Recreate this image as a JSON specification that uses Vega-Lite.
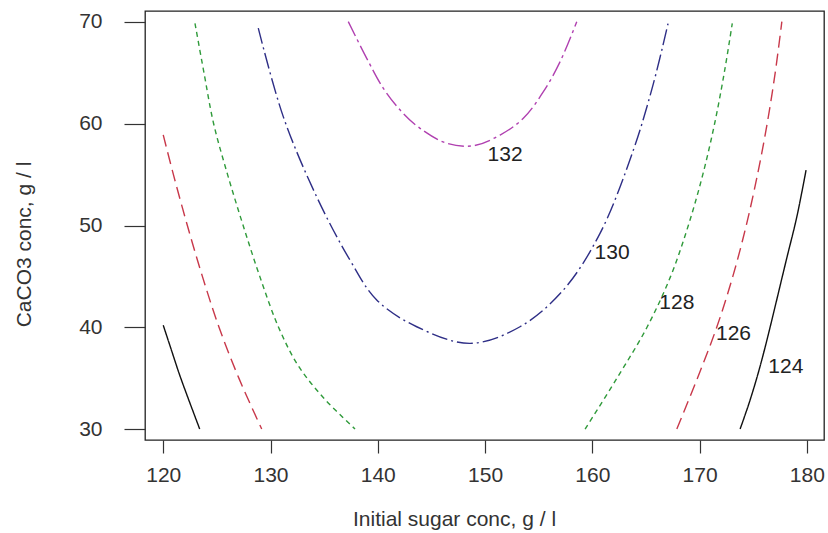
{
  "$schema": "https://vega.github.io/schema/vega-lite/v6.json",
  "width": 679,
  "height": 429,
  "autosize": {"type": "none"},
  "padding": {"left": 145, "top": 11, "right": 4, "bottom": 93},
  "background": "white",
  "config": {
    "view": {"stroke": "#222", "strokeWidth": 1.3},
    "font": "Liberation Sans",
    "axis": {
      "grid": false,
      "domain": false,
      "tickColor": "#333",
      "tickWidth": 1.2,
      "labelColor": "#333",
      "labelFontSize": 21,
      "labelFont": "Liberation Sans",
      "titleFont": "Liberation Sans",
      "titleFontSize": 21,
      "titleFontWeight": "normal",
      "titleColor": "#333"
    }
  },
  "data": {
    "values": [
      {"lvl": "124", "seg": "124L", "i": 0, "x": 120.0, "y": 40.2},
      {"lvl": "124", "seg": "124L", "i": 1, "x": 120.78, "y": 37.7},
      {"lvl": "124", "seg": "124L", "i": 2, "x": 121.6, "y": 35.1},
      {"lvl": "124", "seg": "124L", "i": 3, "x": 123.4, "y": 30.0},
      {"lvl": "124", "seg": "124R", "i": 0, "x": 173.78, "y": 30.0},
      {"lvl": "124", "seg": "124R", "i": 1, "x": 174.71, "y": 32.85},
      {"lvl": "124", "seg": "124R", "i": 2, "x": 175.8, "y": 36.78},
      {"lvl": "124", "seg": "124R", "i": 3, "x": 178.13, "y": 46.8},
      {"lvl": "124", "seg": "124R", "i": 4, "x": 179.07, "y": 50.87},
      {"lvl": "124", "seg": "124R", "i": 5, "x": 179.93, "y": 55.45},
      {"lvl": "126", "seg": "126L", "i": 0, "x": 120.0, "y": 58.9},
      {"lvl": "126", "seg": "126L", "i": 1, "x": 120.95, "y": 55.0},
      {"lvl": "126", "seg": "126L", "i": 2, "x": 122.25, "y": 50.0},
      {"lvl": "126", "seg": "126L", "i": 3, "x": 123.65, "y": 45.0},
      {"lvl": "126", "seg": "126L", "i": 4, "x": 125.2, "y": 40.0},
      {"lvl": "126", "seg": "126L", "i": 5, "x": 127.05, "y": 35.0},
      {"lvl": "126", "seg": "126L", "i": 6, "x": 129.18, "y": 30.0},
      {"lvl": "126", "seg": "126R", "i": 0, "x": 167.88, "y": 30.0},
      {"lvl": "126", "seg": "126R", "i": 1, "x": 169.8, "y": 35.0},
      {"lvl": "126", "seg": "126R", "i": 2, "x": 171.6, "y": 40.0},
      {"lvl": "126", "seg": "126R", "i": 3, "x": 173.1, "y": 45.0},
      {"lvl": "126", "seg": "126R", "i": 4, "x": 174.35, "y": 50.0},
      {"lvl": "126", "seg": "126R", "i": 5, "x": 175.4, "y": 55.0},
      {"lvl": "126", "seg": "126R", "i": 6, "x": 176.3, "y": 60.0},
      {"lvl": "126", "seg": "126R", "i": 7, "x": 177.05, "y": 65.0},
      {"lvl": "126", "seg": "126R", "i": 8, "x": 177.67, "y": 70.03},
      {"lvl": "128", "seg": "128L", "i": 0, "x": 122.96, "y": 69.87},
      {"lvl": "128", "seg": "128L", "i": 1, "x": 123.8, "y": 65.0},
      {"lvl": "128", "seg": "128L", "i": 2, "x": 124.7, "y": 60.0},
      {"lvl": "128", "seg": "128L", "i": 3, "x": 126.0, "y": 55.0},
      {"lvl": "128", "seg": "128L", "i": 4, "x": 127.45, "y": 50.0},
      {"lvl": "128", "seg": "128L", "i": 5, "x": 129.0, "y": 45.0},
      {"lvl": "128", "seg": "128L", "i": 6, "x": 130.75, "y": 40.0},
      {"lvl": "128", "seg": "128L", "i": 7, "x": 132.6, "y": 36.2},
      {"lvl": "128", "seg": "128L", "i": 8, "x": 135.0, "y": 33.0},
      {"lvl": "128", "seg": "128L", "i": 9, "x": 137.88, "y": 30.0},
      {"lvl": "128", "seg": "128R", "i": 0, "x": 159.33, "y": 30.0},
      {"lvl": "128", "seg": "128R", "i": 1, "x": 162.3, "y": 35.0},
      {"lvl": "128", "seg": "128R", "i": 2, "x": 165.1, "y": 40.0},
      {"lvl": "128", "seg": "128R", "i": 3, "x": 167.3, "y": 45.0},
      {"lvl": "128", "seg": "128R", "i": 4, "x": 168.95, "y": 50.0},
      {"lvl": "128", "seg": "128R", "i": 5, "x": 170.3, "y": 55.0},
      {"lvl": "128", "seg": "128R", "i": 6, "x": 171.4, "y": 60.0},
      {"lvl": "128", "seg": "128R", "i": 7, "x": 172.3, "y": 65.0},
      {"lvl": "128", "seg": "128R", "i": 8, "x": 173.05, "y": 69.87},
      {"lvl": "130", "seg": "130", "i": 0, "x": 128.86, "y": 69.4},
      {"lvl": "130", "seg": "130", "i": 1, "x": 131.19, "y": 60.7},
      {"lvl": "130", "seg": "130", "i": 2, "x": 134.3, "y": 52.83},
      {"lvl": "130", "seg": "130", "i": 3, "x": 137.41, "y": 46.6},
      {"lvl": "130", "seg": "130", "i": 4, "x": 139.9, "y": 42.68},
      {"lvl": "130", "seg": "130", "i": 5, "x": 143.63, "y": 40.05},
      {"lvl": "130", "seg": "130", "i": 6, "x": 148.6, "y": 38.42},
      {"lvl": "130", "seg": "130", "i": 7, "x": 153.26, "y": 40.05},
      {"lvl": "130", "seg": "130", "i": 8, "x": 157.3, "y": 43.66},
      {"lvl": "130", "seg": "130", "i": 9, "x": 160.72, "y": 49.23},
      {"lvl": "130", "seg": "130", "i": 10, "x": 163.83, "y": 57.42},
      {"lvl": "130", "seg": "130", "i": 11, "x": 165.7, "y": 63.97},
      {"lvl": "130", "seg": "130", "i": 12, "x": 167.1, "y": 70.03},
      {"lvl": "132", "seg": "132", "i": 0, "x": 137.25, "y": 70.03},
      {"lvl": "132", "seg": "132", "i": 1, "x": 138.97, "y": 66.43},
      {"lvl": "132", "seg": "132", "i": 2, "x": 140.52, "y": 63.48},
      {"lvl": "132", "seg": "132", "i": 3, "x": 142.23, "y": 61.18},
      {"lvl": "132", "seg": "132", "i": 4, "x": 143.94, "y": 59.55},
      {"lvl": "132", "seg": "132", "i": 5, "x": 146.43, "y": 58.08},
      {"lvl": "132", "seg": "132", "i": 6, "x": 148.91, "y": 57.84},
      {"lvl": "132", "seg": "132", "i": 7, "x": 151.4, "y": 58.89},
      {"lvl": "132", "seg": "132", "i": 8, "x": 153.57, "y": 60.54},
      {"lvl": "132", "seg": "132", "i": 9, "x": 155.44, "y": 63.15},
      {"lvl": "132", "seg": "132", "i": 10, "x": 157.0, "y": 66.1},
      {"lvl": "132", "seg": "132", "i": 11, "x": 158.55, "y": 70.03}
    ]
  },
  "encoding": {
    "x": {
      "field": "x",
      "type": "quantitative",
      "scale": {"domain": [118.3, 181.6], "nice": false, "zero": false},
      "axis": {
        "values": [120, 130, 140, 150, 160, 170, 180],
        "tickSize": 13,
        "labelPadding": 11,
        "title": "Initial sugar conc, g / l",
        "titleX": 309,
        "titleY": 85,
        "titleAlign": "center",
        "titleBaseline": "alphabetic"
      }
    },
    "y": {
      "field": "y",
      "type": "quantitative",
      "scale": {"domain": [28.92, 71.08], "nice": false, "zero": false},
      "axis": {
        "values": [30, 40, 50, 60, 70],
        "tickSize": 21,
        "labelPadding": 22,
        "labelBaseline": "middle",
        "title": "CaCO3 conc, g / l",
        "titleX": -121,
        "titleY": 233,
        "titleAlign": "center",
        "titleBaseline": "middle",
        "titleAngle": 270
      }
    }
  },
  "layer": [
    {
      "mark": {"type": "line", "strokeWidth": 1.4, "interpolate": "catmull-rom", "clip": true},
      "encoding": {
        "detail": {"field": "seg"},
        "order": {"field": "i", "type": "quantitative"},
        "color": {
          "field": "lvl",
          "type": "nominal",
          "scale": {
            "domain": ["124", "126", "128", "130", "132"],
            "range": ["#111111", "#c8384a", "#2f9a3a", "#2e2e86", "#b040b0"]
          },
          "legend": null
        },
        "strokeDash": {
          "field": "lvl",
          "type": "nominal",
          "scale": {
            "domain": ["124", "126", "128", "130", "132"],
            "range": [[1, 0], [12, 6], [5, 4], [16, 4, 2, 4], [16, 4, 3, 4]]
          },
          "legend": null
        }
      }
    },
    {
      "data": {
        "values": [
          {"label": "132", "x": 151.87, "y": 56.93},
          {"label": "130", "x": 161.84, "y": 47.3},
          {"label": "128", "x": 167.88, "y": 42.41},
          {"label": "126", "x": 173.16, "y": 39.34},
          {"label": "124", "x": 178.04, "y": 36.12}
        ]
      },
      "mark": {"type": "text", "fontSize": 21, "font": "Liberation Sans", "color": "#222", "align": "center", "baseline": "middle"},
      "encoding": {
        "text": {"field": "label"}
      }
    }
  ]
}
